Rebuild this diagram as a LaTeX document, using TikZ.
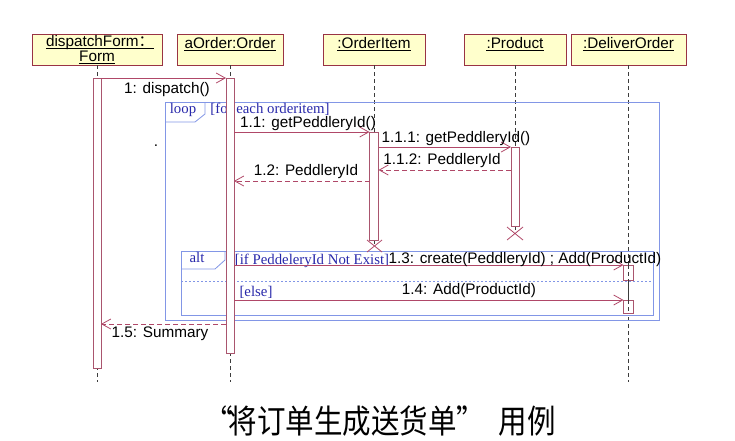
\documentclass[tikz,border=0pt]{standalone}
\usepackage{fontspec}
\setmainfont{Liberation Sans}
\newfontfamily\serifguard{Liberation Serif}
\newfontfamily\cjk{Noto Sans CJK SC}
\usetikzlibrary{arrows.meta}
\definecolor{boxred}{RGB}{153,51,68}
\definecolor{barred}{RGB}{170,85,110}
\definecolor{arrowred}{RGB}{176,72,104}
\definecolor{frameblue}{RGB}{130,150,230}
\definecolor{guardblue}{RGB}{40,40,170}
\definecolor{boxyellow}{RGB}{255,255,204}
\definecolor{lifegray}{RGB}{60,60,60}
\tikzset{
  objbox/.style={draw=boxred, fill=boxyellow, line width=0.8pt},
  actbar/.style={draw=barred, fill=white, line width=0.8pt},
  lifeline/.style={draw=lifegray, line width=0.7pt, dash pattern=on 4pt off 3pt},
  msg/.style={draw=arrowred, line width=0.8pt, -{Straight Barb[length=9pt,width=10pt,line width=0.8pt]}},
  ret/.style={msg, dash pattern=on 5pt off 3pt},
  umlframe/.style={draw=frameblue, line width=0.8pt},
  lbl/.style={font=\fontsize{15.3}{13}\selectfont, inner sep=0pt, anchor=base},
  ttl/.style={font=\fontsize{15.3}{13}\selectfont, inner sep=0pt, anchor=base},
  uline/.style={draw=black, line width=0.6pt},
  guardtxt/.style={font=\fontsize{14.8}{14}\serifguard, text=guardblue, inner sep=0pt, anchor=base},
  destroy/.style={draw=arrowred, line width=0.8pt},
}
\begin{document}
\begin{tikzpicture}[x=1pt,y=-1pt]
\useasboundingbox (0,0) rectangle (735,440);

% object boxes
\draw[objbox] (32,34) rectangle (162,65);
\node[ttl] (tD1) at (100,46.5) {dispatchForm{\cjk ：}\ };
\node[ttl] (tD2) at (97,61) {Form};
\draw[uline] ([yshift=-1.8pt]tD1.base west) -- ([yshift=-1.8pt]tD1.base east);
\draw[uline] ([yshift=-1.8pt]tD2.base west) -- ([yshift=-1.8pt]tD2.base east);
\draw[objbox] (177,34) rectangle (283,65);
\node[ttl] (tA) at (230,48) {aOrder:Order};
\draw[uline] ([yshift=-1.8pt]tA.base west) -- ([yshift=-1.8pt]tA.base east);
\draw[objbox] (323,34) rectangle (425,65);
\node[ttl] (tI) at (374,48) {:OrderItem};
\draw[uline] ([yshift=-1.8pt]tI.base west) -- ([yshift=-1.8pt]tI.base east);
\draw[objbox] (464,34) rectangle (566,65);
\node[ttl] (tP) at (515,48) {:Product};
\draw[uline] ([yshift=-1.8pt]tP.base west) -- ([yshift=-1.8pt]tP.base east);
\draw[objbox] (571,34) rectangle (686,65);
\node[ttl] (tO) at (628.5,48) {:DeliverOrder};
\draw[uline] ([yshift=-1.8pt]tO.base west) -- ([yshift=-1.8pt]tO.base east);

% lifelines
\coordinate (lD0) at (97,65);   \coordinate (lD1) at (97,382);
\coordinate (lA0) at (230,65);  \coordinate (lA1) at (230,382);
\coordinate (lI0) at (374,65);  \coordinate (lI1) at (374,246);
\coordinate (lP0) at (515,65);  \coordinate (lP1) at (515,233);
\coordinate (lO0) at (628.5,65);\coordinate (lO1) at (628.5,382);
\draw[lifeline] (lD0) -- (lD1);
\draw[lifeline] (lA0) -- (lA1);
\draw[lifeline] (lI0) -- (lI1);
\draw[lifeline] (lP0) -- (lP1);
\draw[lifeline] (lO0) -- (lO1);

% frames
\draw[umlframe] (165,102) rectangle (659,320);
\draw[umlframe] (165,122) -- (195,122) -- (205,114) -- (205,102);
\node[guardtxt] (loopT) at (183,113) {loop};
\node[guardtxt] (loopG) at (270,113) {[for each orderitem]};

\draw[umlframe] (181,251) rectangle (653,315);
\draw[umlframe] (181,269) -- (215,269) -- (225,260) -- (225,251);
\draw[umlframe, dash pattern=on 2pt off 2pt] (181,281) -- (653,281);
\node[guardtxt] (altT) at (197,262) {alt};
\node[guardtxt] (altG) at (312,264) {[if PeddeleryId Not Exist]};
\node[guardtxt] (elseG) at (256,296) {[else]};

% activation bars
\draw[actbar] (93,78) rectangle (101,368);
\draw[actbar] (226,78) rectangle (234,353);
\draw[actbar] (369.5,132) rectangle (378.5,240);
\draw[actbar] (511,147) rectangle (519,226);
\draw[actbar] (623.5,265) rectangle (633.5,280);
\draw[actbar] (623.5,300) rectangle (633.5,313);
\draw[lifeline] (628.5,265) -- (628.5,313);

% destroy marks
\draw[destroy] (367,240) -- (382,252) (367,252) -- (382,240);
\draw[destroy] (507,227) -- (523,240) (507,240) -- (523,227);

% message end points
\coordinate (m1a) at (101,78);   \coordinate (m1b) at (226,78);
\coordinate (m2a) at (234,132);  \coordinate (m2b) at (369.5,132);
\coordinate (m3a) at (378.5,147);\coordinate (m3b) at (511,147);
\coordinate (m4a) at (511,170);  \coordinate (m4b) at (378.5,170);
\coordinate (m5a) at (369.5,181);\coordinate (m5b) at (234,181);
\coordinate (m6a) at (234,265);  \coordinate (m6b) at (623.5,265);
\coordinate (m7a) at (234,300);  \coordinate (m7b) at (623.5,300);
\coordinate (m8a) at (226,324);  \coordinate (m8b) at (101,324);

\draw[msg] (m1a) -- (m1b);
\draw[msg] (m2a) -- (m2b);
\draw[msg] (m3a) -- (m3b);
\draw[ret] (m4a) -- (m4b);
\draw[ret] (m5a) -- (m5b);
\draw[msg] (m6a) -- (m6b);
\draw[msg] (m7a) -- (m7b);
\draw[ret] (m8a) -- (m8b);

% message labels
\node[lbl] (l1) at (167,93) {1: dispatch()};
\node[lbl] (l2) at (308,127) {1.1: getPeddleryId()};
\node[lbl] (l3) at (456,142) {1.1.1: getPeddleryId()};
\node[lbl] (l4) at (442,164) {1.1.2: PeddleryId};
\node[lbl] (l5) at (306,175.5) {1.2: PeddleryId};
\node[lbl] (l6) at (525,263) {1.3: create(PeddleryId) ; Add(ProductId)};
\node[lbl] (l7) at (469,294) {1.4: Add(ProductId)};
\node[lbl] (l8) at (160,337) {1.5: Summary};
\node[lbl] (dot) at (156,146) {.};

% caption
\node[inner sep=0pt, yscale=1.15, font=\fontsize{28.5}{28.5}\cjk] (cap) at (380,421) {“\hspace{-4pt}将订单生成送货单”\hspace{14pt}用例};
\end{tikzpicture}
\end{document}
